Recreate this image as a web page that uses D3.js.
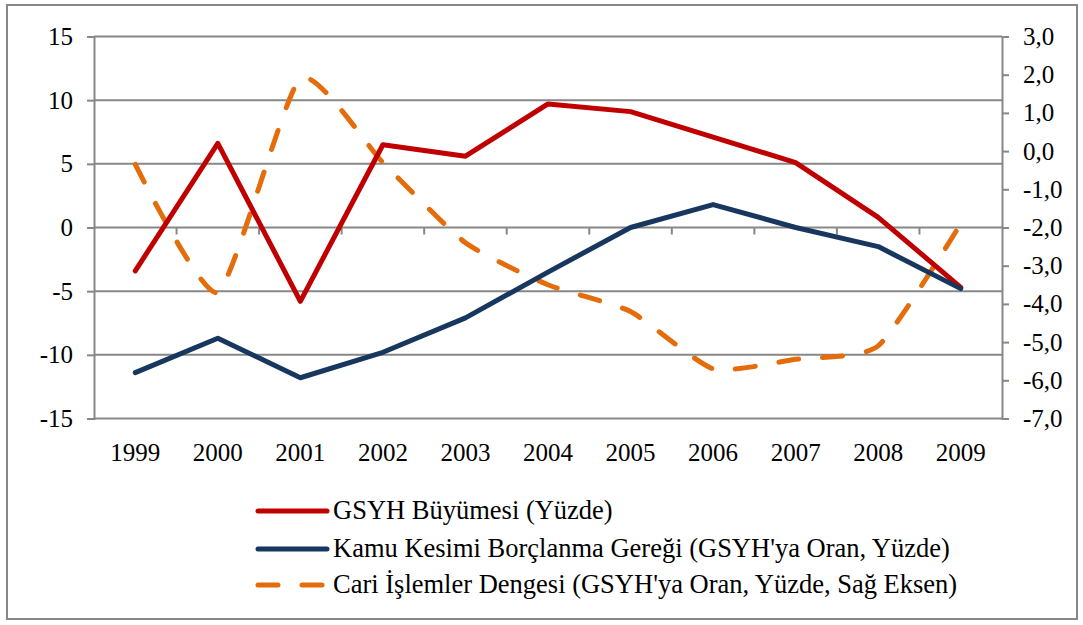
<!DOCTYPE html>
<html>
<head>
<meta charset="utf-8">
<script src="https://cdn.jsdelivr.net/npm/d3@7"></script>
<style>
  body { margin: 0; background: #fff; }
</style>
</head>
<body>
<script>
// values
var years = ['1999','2000','2001','2002','2003','2004','2005','2006','2007','2008','2009'];
var gsyh = [-3.4, 6.6, -5.8, 6.5, 5.6, 9.7, 9.1, 7.1, 5.1, 0.8, -4.7];
var kkbg = [-11.4, -8.7, -11.8, -9.8, -7.1, -3.5, 0.0, 1.8, 0.0, -1.5, -4.8];
var cari = [-0.35, -3.7, 1.9, -0.3, -2.4, -3.5, -4.2, -5.7, -5.45, -5.1, -1.9];
var leftTicks = [-15, -10, -5, 0, 5, 10, 15];
var rightTicks = [-7, -6, -5, -4, -3, -2, -1, 0, 1, 2, 3];
var legendNames = [
  'GSYH Büyümesi (Yüzde)',
  'Kamu Kesimi Borçlanma Gereği (GSYH\'ya Oran, Yüzde)',
  'Cari İşlemler Dengesi (GSYH\'ya Oran, Yüzde, Sağ Eksen)'
];

var W = 1083, H = 625;
var grey = '#878787';
var serif = '"Liberation Serif", "DejaVu Serif", serif';

var svg = d3.select('body').append('svg')
    .attr('width', W)
    .attr('height', H)
    .attr('font-family', serif)

// outer frame
svg.append('rect')
    .attr('x', 7).attr('y', 5)
    .attr('width', 1070).attr('height', 614)
    .attr('fill', 'none')
    .attr('stroke', grey)
    .attr('stroke-width', 2)

var x = d3.scalePoint().domain(years).range([94, 1002]).padding(0.5);
var yL = d3.scaleLinear().domain([-15, 15]).range([418.5, 36.5]);
var yR = d3.scaleLinear().domain([-7, 3]).range([418.5, 36.5]);

// gridlines
svg.selectAll('.grid')
    .data(leftTicks)
    .enter()
  .append('line')
    .attr('x1', 94).attr('x2', 1002)
    .attr('y1', d => yL(d)).attr('y2', d => yL(d))
    .attr('stroke', grey)
    .attr('stroke-width', 2)

// left axis
var gl = svg.append('g')
    .attr('transform', 'translate(94,0)')
    .call(d3.axisLeft(yL).tickValues(leftTicks).tickSize(7).tickPadding(14).tickFormat(d => String(d)));

// right axis
var gr = svg.append('g')
    .attr('transform', 'translate(1002,0)')
    .call(d3.axisRight(yR).tickValues(rightTicks).tickSize(7).tickPadding(14)
        .tickFormat(d => d3.format('.1f')(d).replace('.', ',').replace('−', '-')));

[gl, gr].forEach(function(g) {
    g.attr('font-family', serif).attr('font-size', 25);
    g.selectAll('path, line').attr('stroke', grey).attr('stroke-width', 2);
    g.selectAll('text').attr('fill', '#000').style('font-family', serif);
});

// category ticks on the zero line, labels at the bottom
var step = x.step();
svg.selectAll('.ctick')
    .data(years.slice(1))
    .enter()
  .append('line')
    .attr('x1', d => x(d) - step / 2).attr('x2', d => x(d) - step / 2)
    .attr('y1', yL(0)).attr('y2', yL(0) + 7)
    .attr('stroke', grey)
    .attr('stroke-width', 2)

svg.selectAll('.xlab')
    .data(years)
    .enter()
  .append('text')
    .attr('x', d => x(d))
    .attr('y', 461)
    .attr('text-anchor', 'middle')
    .style('font-family', serif)
    .style('font-size', '25px')
    .text(d => d)

// series
var lineL = d3.line().x((d, i) => x(years[i])).y(d => yL(d));
var lineR = d3.line().x((d, i) => x(years[i])).y(d => yR(d)).curve(d3.curveCardinal.tension(0.45));

var series = [
    {vals: cari, gen: lineR, color: '#E46C0A', dash: '20,24'},
    {vals: gsyh, gen: lineL, color: '#C00000', dash: null},
    {vals: kkbg, gen: lineL, color: '#17375E', dash: null}
];

series.forEach(function(s) {
    svg.append('path')
        .attr('d', s.gen(s.vals))
        .attr('fill', 'none')
        .attr('stroke', s.color)
        .attr('stroke-width', 5)
        .attr('stroke-linejoin', 'round')
        .attr('stroke-linecap', 'round')
        .attr('stroke-dasharray', s.dash)
});

// legend
var legColors = ['#C00000', '#17375E', '#E46C0A'];
var legY = [511, 549, 585];
var leg = svg.selectAll('.leg')
    .data(legendNames)
    .enter()
  .append('g')

leg.append('line')
    .attr('x1', 258).attr('x2', 327)
    .attr('y1', (d, i) => legY[i]).attr('y2', (d, i) => legY[i])
    .attr('stroke', (d, i) => legColors[i])
    .attr('stroke-width', 5)
    .attr('stroke-linecap', 'round')
    .attr('stroke-dasharray', (d, i) => i == 2 ? '20,24' : null)

leg.append('text')
    .attr('x', 333)
    .attr('y', (d, i) => legY[i] + 8)
    .style('font-family', serif)
    .style('font-size', '26.5px')
    .text(d => d)
</script>
</body>
</html>
